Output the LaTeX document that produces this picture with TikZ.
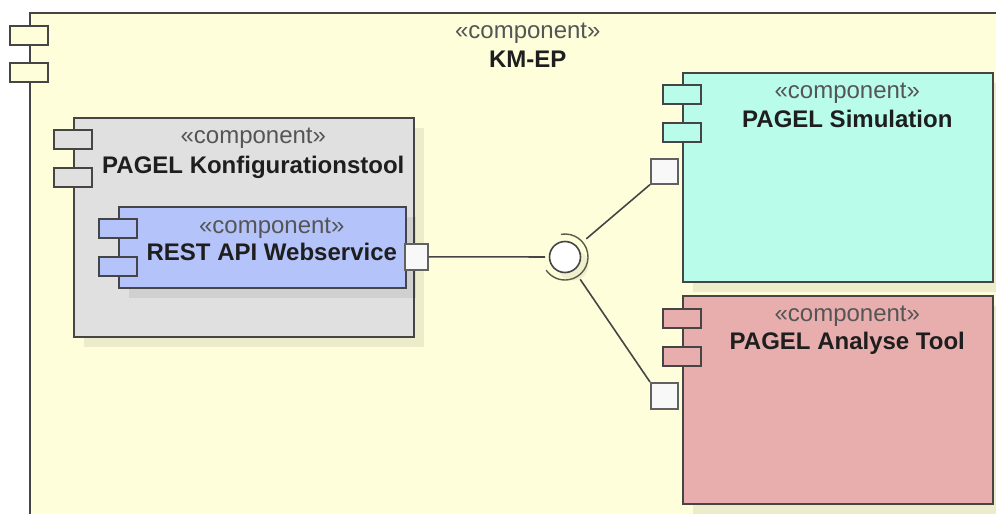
\documentclass[tikz,border=0pt]{standalone}
\usepackage{fontspec}
\setmainfont{Liberation Sans}
\usepackage{tikz}
\usetikzlibrary{positioning}
\usetikzlibrary{calc}
\usetikzlibrary{shadows}

\definecolor{kmbg}{HTML}{FEFEDA}
\definecolor{konfgray}{HTML}{E0E0E0}
\definecolor{restblue}{HTML}{B4C4FA}
\definecolor{simmint}{HTML}{BAFCEA}
\definecolor{anarose}{HTML}{E8AEAE}
\definecolor{edgegray}{HTML}{454545}
\definecolor{socketgray}{HTML}{5A5A48}
\definecolor{portfill}{HTML}{F8F8F8}
\definecolor{stereogray}{HTML}{555555}
\definecolor{namegray}{HTML}{1E1E1E}

\begin{document}
\begin{tikzpicture}[
            x = 1pt, y = -1pt, % pixel grid, y pointing down
            line width = 1.6pt,
            every node/.style = {font = \fontsize{24}{29}\selectfont},
            box/.style = {draw = edgegray, rectangle, anchor = north west, inner sep = 0pt},
            boxshadow/.style = {drop shadow = {shadow xshift = 10pt, shadow yshift = -10pt, opacity = 0.07, fill = black}},
            tab/.style = {draw = edgegray, rectangle, anchor = north, inner sep = 0pt,
                          minimum width = 38pt, minimum height = 19pt},
            port/.style = {draw = edgegray!85, fill = portfill, rectangle, anchor = north west, inner sep = 0pt},
            stereo/.style = {anchor = base, text = stereogray, inner sep = 0pt},
            cname/.style = {text = namegray, inner sep = 0pt,
                            font = \fontsize{24}{29}\selectfont\bfseries}
        ]

        \useasboundingbox (0,0) rectangle (996,514);
        \clip (0,0) rectangle (996,514);

	% outer component
        \node[box, fill = kmbg, minimum width = 977pt, minimum height = 520pt] (km) at (29,12) {};
        \node[tab, fill = kmbg] (kmtab1) at ($(km.north west)+(0,13)$) {};
        \node[tab, fill = kmbg] (kmtab2) at ($(km.north west)+(0,50)$) {};
        \node[stereo] (kmst) at ($(km.north)+(9.5,26)$) {«component»};
        \node[cname] (kmname) [below = 29pt of kmst.base, anchor = base] {KM-EP};

	% configuration tool with nested web service
        \node[box, boxshadow, fill = konfgray, minimum width = 340pt, minimum height = 219pt] (konf) at (73,117) {};
        \node[tab, fill = konfgray] (konftab1) at ($(konf.north west)+(0,12)$) {};
        \node[tab, fill = konfgray] (konftab2) at ($(konf.north west)+(0,50)$) {};
        \node[stereo] (konfst) at ($(konf.north)+(9.5,26)$) {«component»};
        \node[cname] (konfname) [below = 30pt of konfst.base, anchor = base] {PAGEL Konfigurationstool};

        \node[box, boxshadow, fill = restblue, minimum width = 287pt, minimum height = 81pt] (rest) at (118,206) {};
        \node[tab, fill = restblue] (resttab1) at ($(rest.north west)+(0,12)$) {};
        \node[tab, fill = restblue] (resttab2) at ($(rest.north west)+(0,50)$) {};
        \node[stereo] (restst) at ($(rest.north)+(9.5,27)$) {«component»};
        \node[cname] (restname) [below = 27pt of restst.base, anchor = base] {REST API Webservice};

	% simulation
        \node[box, boxshadow, fill = simmint, minimum width = 310pt, minimum height = 209pt] (sim) at (682,72) {};
        \node[tab, fill = simmint] (simtab1) at ($(sim.north west)+(0,12)$) {};
        \node[tab, fill = simmint] (simtab2) at ($(sim.north west)+(0,50)$) {};
        \node[stereo] (simst) at ($(sim.north)+(9.5,26)$) {«component»};
        \node[cname] (simname) [below = 29pt of simst.base, anchor = base] {PAGEL Simulation};

	% analysis
        \node[box, boxshadow, fill = anarose, minimum width = 310pt, minimum height = 208pt] (ana) at (682,295) {};
        \node[tab, fill = anarose] (anatab1) at ($(ana.north west)+(0,13)$) {};
        \node[tab, fill = anarose] (anatab2) at ($(ana.north west)+(0,51)$) {};
        \node[stereo] (anast) at ($(ana.north)+(9.5,26)$) {«component»};
        \node[cname] (ananame) [below = 28pt of anast.base, anchor = base] {PAGEL Analyse Tool};

	% ports
        \node[port, minimum width = 23pt, minimum height = 26pt] (restport) at (404,243) {};
        \node[port, minimum width = 27pt, minimum height = 25pt] (simport) at (650,158) {};
        \node[port, minimum width = 27pt, minimum height = 26pt] (anaport) at (650,382) {};

	% interface (ball and socket)
        \node[draw = edgegray, fill = white, circle, inner sep = 0pt, minimum size = 31pt,
              drop shadow = {shadow xshift = 8pt, shadow yshift = -8pt, opacity = 0.06, fill = black}]
              (iface) at (565,257) {};
        \draw[socketgray, line width = 1.4pt] (iface.center) ++(100:23pt) arc[start angle = 100, end angle = -145, radius = 23pt];

        \draw[edgegray, shorten > = 20pt] (restport.east) -- (iface.center);
        \draw[edgegray, shorten < = 28pt] (iface.center) -- (simport.south west);
        \draw[edgegray, shorten < = 27pt] (iface.center) -- (anaport.north west);

  \end{tikzpicture}
\end{document}
